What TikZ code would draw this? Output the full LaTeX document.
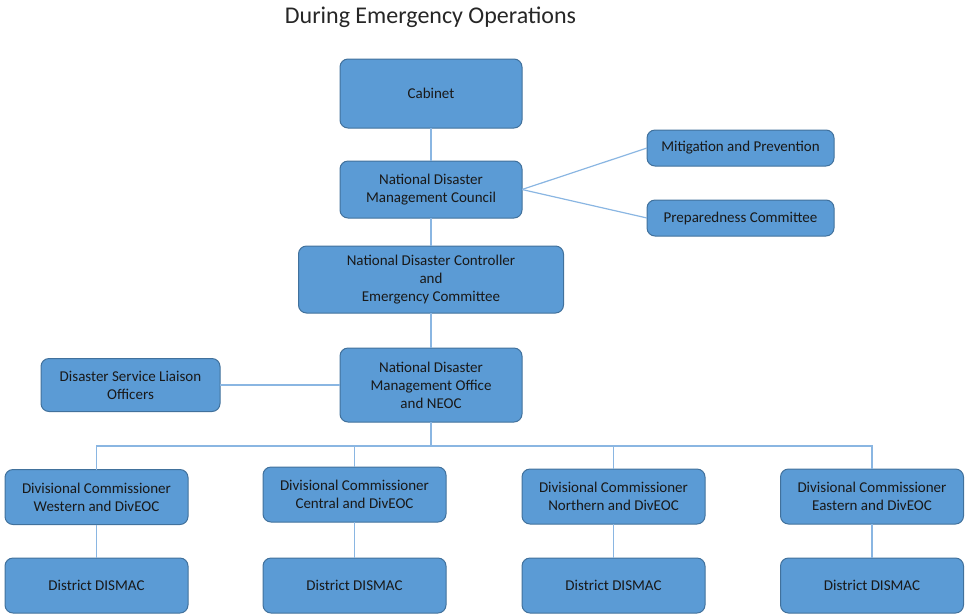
\documentclass[tikz,border=0pt]{standalone}
\usepackage{fontspec}
\setmainfont{Carlito}
\usepackage{tikz}
\usetikzlibrary{positioning}
\definecolor{boxfill}{HTML}{5B9BD5}
\definecolor{boxline}{HTML}{41719C}
\definecolor{wire}{HTML}{8AB6E2}
\definecolor{titlegray}{HTML}{262626}

\begin{document}
\begin{tikzpicture}[
  x=1pt, y=-1pt,
  font=\fontsize{15}{18}\selectfont,
  org/.style={draw=boxline, line width=1pt, fill=boxfill, rounded corners=8pt,
              align=center, inner sep=0pt, outer sep=0pt, text=black!90},
  divbox/.style={org, minimum width=183pt, minimum height=55pt},
  link/.style={draw=wire, line width=1.2pt}
]
\useasboundingbox (0,0) rectangle (965,614);

% Title
\node[font=\fontsize{24}{28}\selectfont, text=titlegray] (title) at (430.5,17) {During Emergency Operations};

% National column
\node[org, minimum width=182pt, minimum height=69pt] (cab)  at (431,93.5) {Cabinet};
\node[org, minimum width=182pt, minimum height=57pt] (ndmc) at (431,189.5) {National Disaster\\Management Council};
\node[org, minimum width=265pt, minimum height=67pt] (ndc)  at (431,279.5) {National Disaster Controller\\and\\Emergency Committee};
\node[org, minimum width=182pt, minimum height=74pt] (ndmo) at (431,385) {National Disaster\\Management Office\\and NEOC};

% Committees of the council
\node[org, minimum width=187pt, minimum height=36pt] (mit)  at (740.5,148) {Mitigation and Prevention};
\node[org, minimum width=187pt, minimum height=36pt] (prep) at (740.5,218) {Preparedness Committee};

% Liaison
\node[org, minimum width=179pt, minimum height=53pt] (dslo) at (130.5,385) {Disaster Service Liaison\\Officers};

\draw[link] (cab.south) -- (ndmc.north);
\draw[link] (ndmc.east) -- (mit.west);
\draw[link] (ndmc.east) -- (prep.west);
\draw[link] (ndmc.south) -- (ndc.north);
\draw[link] (ndc.south) -- (ndmo.north);
\draw[link] (dslo.east) -- (ndmo.west);

% Divisions
\node[divbox] (divw) at (96.5,497)  {Divisional Commissioner\\Western and DivEOC};
\node[divbox] (divc) at (354.5,494.5) {Divisional Commissioner\\Central and DivEOC};
\node[divbox] (divn) at (613.5,496.5) {Divisional Commissioner\\Northern and DivEOC};
\node[divbox] (dive) at (872,496.5)  {Divisional Commissioner\\Eastern and DivEOC};

% Districts
\node[divbox] (dstw) at (96.5,585.5)  {District DISMAC};
\node[divbox] (dstc) at (354.5,585.5) {District DISMAC};
\node[divbox] (dstn) at (613.5,585.5) {District DISMAC};
\node[divbox] (dste) at (872,585.5)   {District DISMAC};

% bus under the office
\coordinate (bus) at (431,446);
\draw[link] (ndmo.south) -- (bus);
\foreach \d in {divw,divc,divn,dive}
  \draw[link] (bus) -| (\d.north);
\draw[link] (divw.south) -- (dstw.north);
\draw[link] (divc.south) -- (dstc.north);
\draw[link] (divn.south) -- (dstn.north);
\draw[link] (dive.south) -- (dste.north);

\end{tikzpicture}
\end{document}
